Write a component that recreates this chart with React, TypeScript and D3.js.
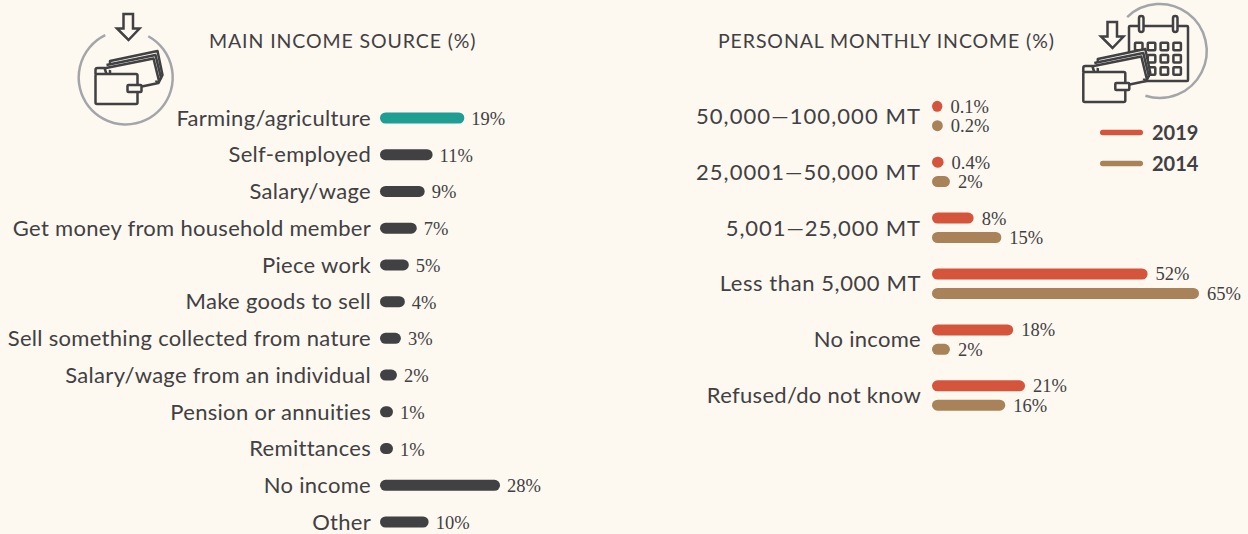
import React from "react";
import * as d3 from "d3";

const W = 1248, H = 534;
const BG = "#fdf8f0", DARK = "#414042", TEAL = "#1f9e93", RED = "#d4553c", TAN = "#a9825a", GREY = "#a3a5a8";
const SANS = "Lato, 'Open Sans', sans-serif";
const SERIF = "'Liberation Serif', serif";

const incomeSources = ["Farming/agriculture", "Self-employed", "Salary/wage", "Get money from household member", "Piece work", "Make goods to sell", "Sell something collected from nature", "Salary/wage from an individual", "Pension or annuities", "Remittances", "No income", "Other"];
const incomeShares = [19, 11, 9, 7, 5, 4, 3, 2, 1, 1, 28, 10];

const incomeBands = ["50,000—100,000 MT", "25,0001—50,000 MT", "5,001—25,000 MT", "Less than 5,000 MT", "No income", "Refused/do not know"];
const values2019 = [0.1, 0.4, 8, 52, 18, 21];
const values2014 = [0.2, 2, 15, 65, 2, 16];
const years = ["2019", "2014"];

const BAR_H = 11;
const leftY = d3.scalePoint<string>().domain(incomeSources).range([118, 522]);
const leftW = d3.scaleLinear().domain([0, 28]).range([9, 120]);
const rightY = d3.scalePoint<string>().domain(incomeBands).range([116, 395.5]);
const rightW = d3.scaleLinear().domain([0, 65]).range([10, 267]);
const legendY = d3.scalePoint<string>().domain(years).range([132.5, 163.5]);

const LEFT_X = 380, RIGHT_X = 932;

// The reference face has wider numerals than Lato, so labels with digits get extra tracking.
const bandTracking = (s: string) => 0.3 + 0.07 * (s.match(/\d/g) || []).length;

function Bar({ x, y, w, fill }: { x: number; y: number; w: number; fill: string }) {
  return <rect x={x} y={y - BAR_H / 2} width={w} height={BAR_H} rx={BAR_H / 2} fill={fill} />;
}

function Wallet({ x, y }: { x: number; y: number }) {
  return (
    <g transform={`translate(${x},${y})`} fill={BG} stroke={DARK} strokeWidth={2.5} strokeLinejoin="round">
      <path d="M14.5,9 L62,-1 L67,23 L63,31 L44,35 L14.5,24 Z" />
      <path d="M11,13 L60,3 L65.5,26 L60,30" />
      <path d="M8,16.5 L58,6.5 L63.5,29" />
      <path d="M0,22 L0,18 Q0,16 2,16 L9,16 L11,22" />
      <rect x={0} y={22} width={42} height={30} rx={1.5} />
      <rect x={32} y={33} width={14} height={7} rx={1} />
    </g>
  );
}

function Arrow({ x, y }: { x: number; y: number }) {
  return (
    <path
      transform={`translate(${x},${y})`}
      d="M-4.5,0 L5,0 L5,14.5 L11.5,14.5 L0.5,26 L-11,14.5 L-4.5,14.5 Z"
      fill={BG}
      stroke={DARK}
      strokeWidth={2.5}
      strokeLinejoin="miter"
    />
  );
}

function ringArc(r: number, a0: number, a1: number) {
  return d3.arc()({ innerRadius: r, outerRadius: r, startAngle: a0, endAngle: a1 }) as string;
}

const calendarCols = [0, 1, 2, 3];
const calendarRows = [0, 1, 2];

function Calendar({ x, y }: { x: number; y: number }) {
  return (
    <g transform={`translate(${x},${y})`} fill="none" stroke={DARK} strokeWidth={2.5}>
      <rect x={0} y={10} width={59} height={55} rx={1} fill={BG} />
      {[12, 46].map((cx) => (
        <rect key={cx} x={cx - 2} y={0} width={4.5} height={16} rx={2.2} fill={BG} />
      ))}
      {calendarRows.map((r) =>
        calendarCols.map((c) => (
          <rect key={`${r}-${c}`} x={6 + c * 12.8} y={26.7 + r * 12.3} width={7.5} height={7.5} rx={0.8} />
        ))
      )}
    </g>
  );
}

export default function App() {
  return (
    <svg width={W} height={H} viewBox={`0 0 ${W} ${H}`} style={{ position: "absolute", left: 0, top: 0, background: BG, display: "block" }}>
      <rect width={W} height={H} fill={BG} />

      {/* left icon */}
      <path transform="translate(125.7,77.5)" d={ringArc(47, 0.5, 2 * Math.PI - 0.45)} fill="none" stroke={GREY} strokeWidth={2.5} />
      <Arrow x={128} y={14} />
      <Wallet x={95.5} y={52} />

      <text x={209} y={48} fontFamily={SANS} fontSize={19.5} letterSpacing={0.9} fill={DARK}>MAIN INCOME SOURCE (%)</text>

      {incomeSources.map((name, i) => {
        const y = leftY(name) as number;
        const w = leftW(incomeShares[i]);
        return (
          <g key={name}>
            <text x={371} y={y} dy="0.35em" textAnchor="end" fontFamily={SANS} fontSize={22} fontWeight={400} letterSpacing={0.3} fill={DARK}>{name}</text>
            <Bar x={LEFT_X} y={y} w={w} fill={i === 0 ? TEAL : DARK} />
            <text x={LEFT_X + w + 7} y={y} dy="0.38em" fontFamily={SERIF} fontSize={18.5} fill={DARK}>{incomeShares[i]}%</text>
          </g>
        );
      })}

      {/* right icon */}
      <path transform="translate(1159.7,51)" d={ringArc(47, -0.765, 3.45)} fill="none" stroke={GREY} strokeWidth={2.5} />
      <Calendar x={1129} y={16} />
      <Arrow x={1112} y={22} />
      <Wallet x={1083.3} y={50} />

      <text x={718} y={48} fontFamily={SANS} fontSize={19.5} letterSpacing={0.9} fill={DARK}>PERSONAL MONTHLY INCOME (%)</text>

      {incomeBands.map((name, i) => {
        const y = rightY(name) as number;
        const y1 = y - 9.7, y2 = y + 9.7;
        const w1 = rightW(values2019[i]), w2 = rightW(values2014[i]);
        return (
          <g key={name}>
            <text x={921} y={y} dy="0.35em" textAnchor="end" fontFamily={SANS} fontSize={22} fontWeight={400} letterSpacing={bandTracking(name)} fill={DARK}>{name}</text>
            <Bar x={RIGHT_X} y={y1} w={w1} fill={RED} />
            <Bar x={RIGHT_X} y={y2} w={w2} fill={TAN} />
            <text x={RIGHT_X + w1 + 8} y={y1} dy="0.35em" fontFamily={SERIF} fontSize={18.5} fill={DARK}>{values2019[i]}%</text>
            <text x={RIGHT_X + w2 + 8} y={y2} dy="0.35em" fontFamily={SERIF} fontSize={18.5} fill={DARK}>{values2014[i]}%</text>
          </g>
        );
      })}

      {years.map((yr, i) => {
        const y = legendY(yr) as number;
        return (
          <g key={yr}>
            <rect x={1100} y={y - 2.7} width={43} height={5.4} rx={2.7} fill={i === 0 ? RED : TAN} />
            <text x={1152} y={y} dy="0.37em" fontFamily={SANS} fontSize={20} fontWeight={700} fill={DARK}>{yr}</text>
          </g>
        );
      })}
    </svg>
  );
}
